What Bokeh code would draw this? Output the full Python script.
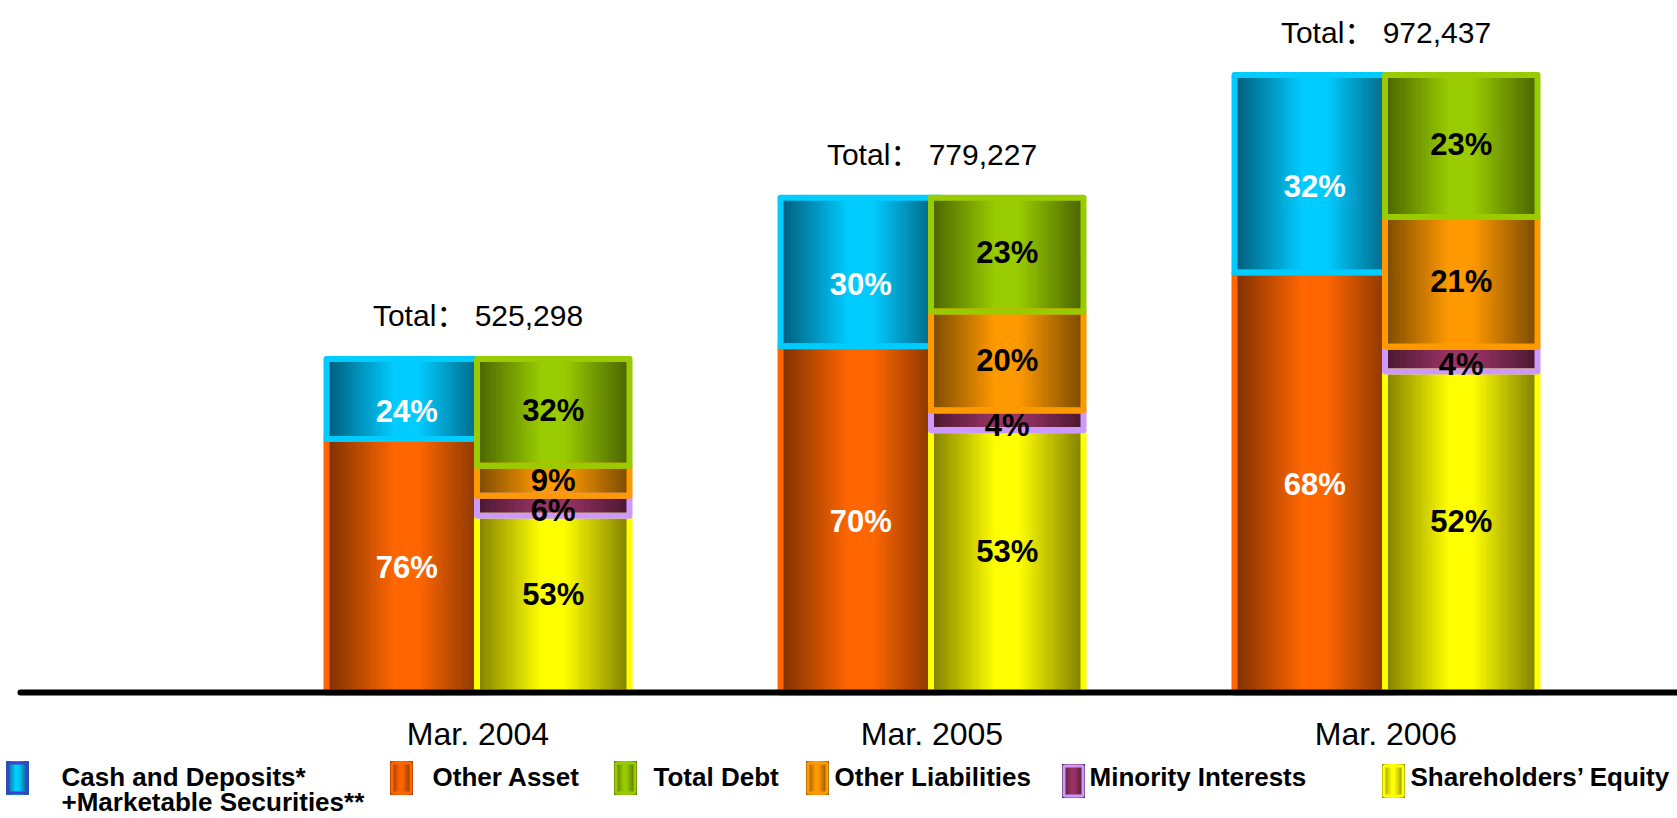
import numpy as np
from bokeh.plotting import figure
from bokeh.models import ColumnDataSource
from bokeh.core.properties import value, field
from bokeh.embed import file_html
from bokeh.resources import INLINE

# ---------------- data ----------------
categories = ["Mar. 2004", "Mar. 2005", "Mar. 2006"]
totals = [525298, 779227, 972437]
# asset side (bottom -> top)
other_asset_pct = [76, 70, 68]
cash_pct = [24, 30, 32]
# liabilities side (bottom -> top)
equity_pct = [53, 53, 52]
minority_pct = [6, 4, 4]
other_liab_pct = [9, 20, 21]
total_debt_pct = [32, 23, 23]

legend_labels = ["Cash and Deposits*", "Other Asset", "Total Debt",
                 "Other Liabilities", "Minority Interests", "Shareholders\u2019 Equity"]
legend_second_line = "+Marketable Securities**"

# ---------------- styles ----------------
STY = {
    "cash":   dict(bright="#00CCFF", dark="#005A78", border="#00CCFF", sw="#4040CC", txt="white", dy=13),
    "oasset": dict(bright="#FF6600", dark="#7A3000", border="#FF6600", sw="#FF6600", txt="white", dy=2),
    "debt":   dict(bright="#99CC00", dark="#4A6300", border="#99CC00", sw="#99CC00", txt="black", dy=-2),
    "oliab":  dict(bright="#FF9900", dark="#7A4A00", border="#FF9900", sw="#FF9900", txt="black", dy=0),
    "minor":  dict(bright="#993366", dark="#4A1830", border="#CC99FF", sw="#CC99FF", txt="black", dy=5),
    "equity": dict(bright="#FFFF00", dark="#7F7F00", border="#FFFF00", sw="#FFFF00", txt="black", dy=-10),
}
FONT = "Liberation Sans"

W, H = 1677, 816
PX_PER_CAT = 454.0
VAL_PER_PX = 1574.8
x_start = -477.5 / PX_PER_CAT
x_end = x_start + W / PX_PER_CAT
y_end = 692 * VAL_PER_PX
y_start = y_end - H * VAL_PER_PX


def X(px):
    return x_start + px / PX_PER_CAT


def Y(py):
    return y_end - py * VAL_PER_PX


def hex2rgb(h):
    h = h.lstrip("#")
    return np.array([int(h[i:i + 2], 16) for i in (0, 2, 4)], dtype=float)


def grad(bright, dark, t):
    s = min(1.0, (1 - abs(2 * t - 1)) / 0.85)
    b, d = hex2rgb(bright), hex2rgb(dark)
    c = d + (b - d) * s
    return "#%02x%02x%02x" % tuple(int(round(v)) for v in c)


p = figure(width=W, height=H, x_range=(x_start, x_end), y_range=(y_start, y_end),
           x_axis_type=None, y_axis_type=None, toolbar_location=None,
           output_backend="svg", min_border=0, outline_line_color=None,
           background_fill_color="white", border_fill_color="white")

ASSET_L, ASSET_R = -151.5 / PX_PER_CAT, 9 / PX_PER_CAT
LIAB_L, LIAB_R = -1 / PX_PER_CAT, 151.5 / PX_PER_CAT
N = 48


def build(side_series, L_off, R_off):
    strips = dict(left=[], right=[], bottom=[], top=[], color=[])
    borders = dict(left=[], right=[], bottom=[], top=[], color=[])
    labels = dict(x=[], y=[], text=[], color=[], dy=[])
    for i, tot in enumerate(totals):
        g = float(i)
        L, R = g + L_off, g + R_off
        base = 0.0
        segs = []
        for key, pcts in side_series:
            h = tot * pcts[i] / 100.0
            segs.append((key, base, base + h, pcts[i]))
            base += h
        for key, b0, b1, pc in segs:
            st = STY[key]
            for k in range(N):
                t = (k + 0.5) / N
                strips["left"].append(L + (R - L) * k / N)
                strips["right"].append(L + (R - L) * (k + 1) / N)
                strips["bottom"].append(b0)
                strips["top"].append(b1)
                strips["color"].append(grad(st["bright"], st["dark"], t))
            borders["left"].append(L)
            borders["right"].append(R)
            borders["bottom"].append(b0)
            borders["top"].append(b1)
            borders["color"].append(st["border"])
            labels["x"].append((L + R) / 2)
            labels["y"].append((b0 + b1) / 2)
            labels["text"].append("%d%%" % pc)
            labels["color"].append(st["txt"])
            labels["dy"].append(st["dy"])
    return strips, borders, labels


asset_series = [("oasset", other_asset_pct), ("cash", cash_pct)]
liab_series = [("equity", equity_pct), ("minor", minority_pct),
               ("oliab", other_liab_pct), ("debt", total_debt_pct)]

a_strips, a_borders, a_labels = build(asset_series, ASSET_L, ASSET_R)
l_strips, l_borders, l_labels = build(liab_series, LIAB_L, LIAB_R)

for strips, borders in ((a_strips, a_borders), (l_strips, l_borders)):
    p.quad(left="left", right="right", bottom="bottom", top="top",
           fill_color="color", line_color="color", line_width=1,
           source=ColumnDataSource(strips))
    p.quad(left="left", right="right", bottom="bottom", top="top",
           fill_color=None, line_color="color", line_width=6, line_join="round",
           source=ColumnDataSource(borders))

# baseline
p.segment(x0=[X(20)], y0=[0], x1=[x_end + 1], y1=[0], line_color="black",
          line_width=6, line_cap="round")

# percent labels
for lab in (a_labels, l_labels):
    p.text(x="x", y="y", text="text", source=ColumnDataSource(lab),
           text_color=field("color"), text_font=value(FONT), text_font_style="bold",
           text_font_size="31px", text_align="center", text_baseline="middle",
           y_offset=field("dy"))

# totals
tot_src = ColumnDataSource(dict(x=[float(i) for i in range(len(totals))], y=totals,
                                text=["Total\uff1a %s" % format(t, ",") for t in totals]))
p.text(x="x", y="y", text="text", source=tot_src, text_color="black",
       text_font=value("'Liberation Sans', 'Noto Sans CJK SC'"), text_font_size="30px",
       text_align="center", text_baseline="middle", y_offset=-43)

# category labels
cat_src = ColumnDataSource(dict(x=[float(i) for i in range(len(categories))],
                                y=[0] * len(categories), text=categories))
p.text(x="x", y="y", text="text", source=cat_src, text_color="black",
       text_font=value(FONT), text_font_size="32px", text_align="center",
       text_baseline="middle", y_offset=41)

# legend (manual)
leg_keys = ["cash", "oasset", "debt", "oliab", "minor", "equity"]
sw_x = [6, 390, 614, 806, 1062, 1382]       # screen px, swatch left
sw_y = [761, 761, 761, 761, 764, 764]       # screen px, swatch top
tx_x = [61, 432, 653, 834, 1089, 1410]      # screen px, text left
SW_W, SW_H, NS = 22, 33, 10
ls = dict(left=[], right=[], bottom=[], top=[], color=[])
lb = dict(left=[], right=[], bottom=[], top=[], color=[])
for key, sx, sy in zip(leg_keys, sw_x, sw_y):
    st = STY[key]
    for j in range(NS):
        t = (j + 0.5) / NS
        ls["left"].append(X(sx + SW_W * j / NS))
        ls["right"].append(X(sx + SW_W * (j + 1) / NS))
        ls["top"].append(Y(sy))
        ls["bottom"].append(Y(sy + SW_H))
        ls["color"].append(grad(st["bright"], st["dark"], t))
    lb["left"].append(X(sx + 1.5))
    lb["right"].append(X(sx + SW_W - 1.5))
    lb["top"].append(Y(sy + 1.5))
    lb["bottom"].append(Y(sy + SW_H - 1.5))
    lb["color"].append(st["sw"])
p.quad(left="left", right="right", bottom="bottom", top="top", fill_color="color",
       line_color="color", line_width=1, source=ColumnDataSource(ls))
p.quad(left="left", right="right", bottom="bottom", top="top", fill_color=None,
       line_color="color", line_width=3, source=ColumnDataSource(lb))

leg_txt = dict(x=[X(t) for t in tx_x] + [X(tx_x[0])],
               y=[Y(776)] * 6 + [Y(801)],
               text=legend_labels + [legend_second_line])
p.text(x="x", y="y", text="text", source=ColumnDataSource(leg_txt), text_color="black",
       text_font=value(FONT), text_font_style="bold", text_font_size="26px",
       text_align="left", text_baseline="middle")

open("out.html", "w").write(file_html(p, INLINE))
